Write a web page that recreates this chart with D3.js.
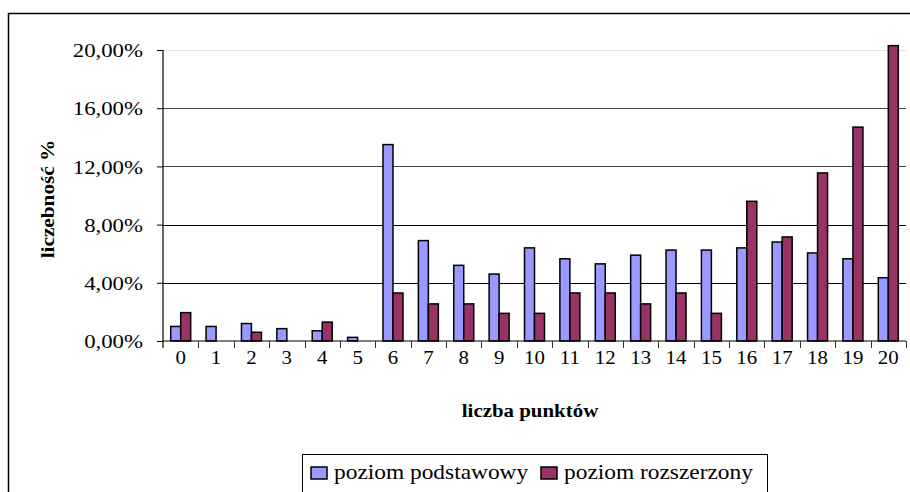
<!DOCTYPE html>
<html>
<head>
  <meta charset="UTF-8">
  <title>liczebność</title>
  <script src="https://cdn.jsdelivr.net/npm/d3@7"></script>
  <style>
    body { margin: 0; background: #fff; }
  </style>
</head>
<body>
  <svg width="910" height="492" id="mainsvg"></svg>
  <script>
    const categories = ['0','1','2','3','4','5','6','7','8','9','10','11','12','13','14','15','16','17','18','19','20'];
    const podstawowy = [1.0, 1.0, 1.2, 0.85, 0.7, 0.25, 13.5, 6.9, 5.2, 4.6, 6.4, 5.65, 5.3, 5.9, 6.25, 6.25, 6.4, 6.8, 6.05, 5.65, 4.35];
    const rozszerzony = [1.95, 0, 0.6, 0, 1.3, 0, 3.3, 2.55, 2.55, 1.9, 1.9, 3.3, 3.3, 2.55, 3.3, 1.9, 9.6, 7.15, 11.55, 14.7, 20.3];
    const seriesNames = ['poziom podstawowy', 'poziom rozszerzony'];
    const colors = ['#9999ff', '#993366'];
    const yTicks = [0, 4, 8, 12, 16, 20];

    const FONT = 'Liberation Serif';

    const svg = d3.select('#mainsvg');
    const margin = {top: 50, right: 4, bottom: 151, left: 163};
    const width = +svg.attr('width');
    const height = +svg.attr('height');
    const plotRight = width - margin.right;
    const plotBottom = height - margin.bottom;

    // outer chart frame
    svg.append('rect')
      .attr('x', 8.5).attr('y', 13.5)
      .attr('width', 960).attr('height', 560)
      .attr('fill', 'none').attr('stroke', '#000').attr('stroke-width', 1.5);

    const x0 = d3.scaleBand().domain(categories).range([margin.left, plotRight]).padding(0);
    const x1 = d3.scaleBand().domain(seriesNames).range([0, x0.bandwidth()]).paddingInner(0).paddingOuter(0.77);
    const y = d3.scaleLinear().domain([0, 20]).range([plotBottom, margin.top]);

    const fmt = v => d3.format('.2f')(v).replace('.', ',') + '%';

    // gridlines
    svg.append('g')
      .selectAll('line')
      .data(yTicks.filter(d => d > 0))
      .join('line')
      .attr('x1', margin.left).attr('x2', plotRight)
      .attr('y1', d => Math.round(y(d)) + 0.5).attr('y2', d => Math.round(y(d)) + 0.5)
      .attr('stroke', d => d === 20 ? '#e0e0e0' : (d >= 12 ? '#444' : '#000'))
      .attr('stroke-width', 1);

    // bars
    const rows = categories.map((c, i) => ({cat: c, vals: [podstawowy[i], rozszerzony[i]]}));
    const groups = svg.append('g').selectAll('g')
      .data(rows).join('g')
      .attr('transform', d => `translate(${x0(d.cat)},0)`);
    groups.selectAll('rect')
      .data(d => d.vals.map((v, k) => ({v, k})).filter(e => e.v > 0))
      .join('rect')
      .attr('x', d => x1(seriesNames[d.k]))
      .attr('width', x1.bandwidth())
      .attr('y', d => y(d.v))
      .attr('height', d => y(0) - y(d.v))
      .attr('fill', d => colors[d.k])
      .attr('stroke', '#000').attr('stroke-width', 1.5);

    // y axis
    const yAxis = d3.axisLeft(y).tickValues(yTicks).tickFormat(fmt).tickSize(6).tickSizeOuter(0);
    const gy = svg.append('g').attr('transform', `translate(${margin.left},0)`).call(yAxis)
      .attr('font-family', FONT);
    gy.select('.domain').attr('stroke', '#000').attr('stroke-width', 1.2).attr('d', `M0,${margin.top}V${plotBottom + 7}`);
    gy.selectAll('.tick line').attr('stroke', '#000');
    gy.selectAll('.tick text')
      .style('font-family', FONT).style('font-size', '19px').attr('fill', '#000')
      .attr('x', 0).attr('dy', '0.35em')
      .attr('transform', 'translate(-20,0) scale(1.2,1)');

    // x axis
    const gx = svg.append('g').attr('transform', `translate(0,${plotBottom})`);
    gx.append('line')
      .attr('x1', margin.left).attr('x2', plotRight)
      .attr('stroke', '#000').attr('stroke-width', 1.2);
    gx.selectAll('.sep')
      .data(categories)
      .join('line').attr('class', 'sep')
      .attr('x1', d => Math.round(x0(d) + x0.bandwidth()) + 0.5)
      .attr('x2', d => Math.round(x0(d) + x0.bandwidth()) + 0.5)
      .attr('y1', 0).attr('y2', 7)
      .attr('stroke', '#333');
    gx.selectAll('.lab')
      .data(categories).join('text').attr('class', 'lab')
      .attr('transform', d => `translate(${x0(d) + x0.bandwidth() / 2},23) scale(1.1,1)`)
      .attr('text-anchor', 'middle')
      .style('font-family', FONT).style('font-size', '19px')
      .text(d => d);

    // axis titles
    svg.append('text')
      .attr('transform', `translate(530,417) scale(1.1,1)`)
      .attr('text-anchor', 'middle')
      .style('font-family', FONT).style('font-size', '19px').style('font-weight', 'bold')
      .text('liczba punktów');
    svg.append('text')
      .attr('transform', `translate(54,199) rotate(-90) scale(1.12,1)`)
      .attr('text-anchor', 'middle')
      .style('font-family', FONT).style('font-size', '19px').style('font-weight', 'bold')
      .text('liczebność %');

    // legend
    const lg = svg.append('g').attr('transform', 'translate(302,454)');
    lg.append('rect')
      .attr('x', 0.5).attr('y', 0.5).attr('width', 465).attr('height', 80)
      .attr('fill', '#fff').attr('stroke', '#000').attr('stroke-width', 1);
    const lx = [9, 239];
    seriesNames.forEach((s, i) => {
      lg.append('rect')
        .attr('x', lx[i]).attr('y', 13).attr('width', 16).attr('height', 12)
        .attr('fill', colors[i]).attr('stroke', '#000').attr('stroke-width', 1.5);
      lg.append('text')
        .attr('transform', `translate(${lx[i] + 23},25) scale(1.17,1)`)
        .style('font-family', FONT).style('font-size', '20px')
        .text(s);
    });
  </script>
</body>
</html>
